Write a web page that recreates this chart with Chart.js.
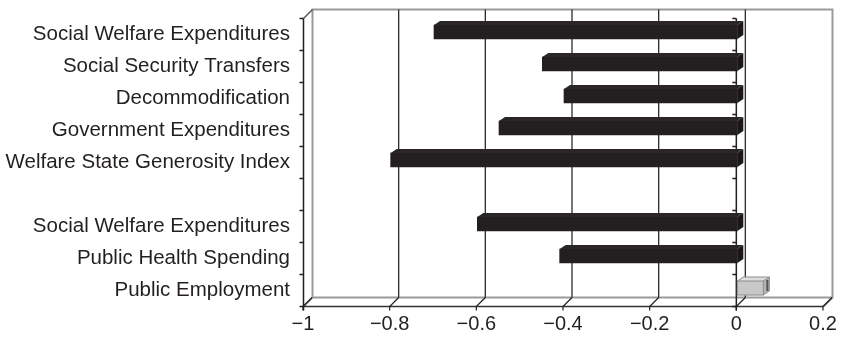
<!DOCTYPE html>
<html>
<head>
<meta charset="utf-8">
<script src="https://cdn.jsdelivr.net/npm/chart.js@4.4.1/dist/chart.umd.min.js"></script>
<style>
  html, body { margin: 0; padding: 0; background: #fff; }
  canvas { display: block; }
</style>
</head>
<body>
<canvas id="c" width="841" height="338"></canvas>
<script>
// Correlation estimates per welfare-state indicator (empty row separates the two groups)
const categories = [
  'Social Welfare Expenditures',
  'Social Security Transfers',
  'Decommodification',
  'Government Expenditures',
  'Welfare State Generosity Index',
  '',
  'Social Welfare Expenditures',
  'Public Health Spending',
  'Public Employment'
];
const values = [-0.70, -0.45, -0.40, -0.55, -0.80, null, -0.60, -0.41, 0.06];
const xTicks = [-1, -0.8, -0.6, -0.4, -0.2, 0, 0.2];

const INK = '#231f20';
const barColors = values.map(v => (v !== null && v < 0) ? INK : '#c8c8c8');

// pseudo-3D geometry
const DEPTH = 9;                  // offset of the back wall from the front plane
const BAR_DX = 6, BAR_DY = 4;     // top / side face offset of each bar
const SHIFT_X = 1, SHIFT_Y = -2;  // bars sit slightly behind the front plane

const fmt = v => (v < 0 ? '\u2212' : '') + String(Math.abs(Math.round(v * 10) / 10));

const box3d = {
  id: 'box3d',
  beforeDatasetsDraw(chart) {
    const { ctx, chartArea: a, scales: { x } } = chart;
    const L = a.left + 0.5, R = a.right + 0.5, T = a.top + 0.5, B = a.bottom + 0.5, d = DEPTH;
    ctx.save();
    // back wall, right edge and floor outline
    ctx.strokeStyle = '#9a9a9a';
    ctx.lineWidth = 2;
    ctx.beginPath();
    ctx.moveTo(L + d, B - d); ctx.lineTo(L + d, T - d); ctx.lineTo(R + d, T - d);
    ctx.lineTo(R + d, B - d); ctx.lineTo(R, B);
    ctx.moveTo(L + d, B - d); ctx.lineTo(R + d, B - d);
    ctx.moveTo(L, B); ctx.lineTo(L + d, B - d);
    ctx.stroke();
    // top edge of the side wall
    ctx.strokeStyle = '#555';
    ctx.lineWidth = 1.5;
    ctx.beginPath();
    ctx.moveTo(L, T); ctx.lineTo(L + d, T - d);
    ctx.stroke();
    // gridlines on the back wall
    ctx.strokeStyle = '#2b2b2b';
    ctx.lineWidth = 1.3;
    ctx.beginPath();
    xTicks.forEach((v, i) => {
      if (i === 0 || i === xTicks.length - 1) return;
      const px = x.getPixelForValue(v) + d;
      ctx.moveTo(px, T - d); ctx.lineTo(px, B - d);
    });
    ctx.stroke();
    // front floor edge
    ctx.strokeStyle = '#333';
    ctx.lineWidth = 1.3;
    ctx.beginPath();
    ctx.moveTo(L, B); ctx.lineTo(R, B);
    ctx.stroke();
    // tick marks running across the floor
    ctx.strokeStyle = INK;
    ctx.lineWidth = 1.2;
    ctx.beginPath();
    xTicks.forEach(v => {
      const px = x.getPixelForValue(v);
      ctx.moveTo(px, B + 4); ctx.lineTo(px, B);
      ctx.lineTo(px + d, B - d);
    });
    ctx.stroke();
    // category axes at the front left edge and at zero
    const zx = x.getPixelForValue(0);
    ctx.lineWidth = 1.5;
    ctx.beginPath();
    ctx.moveTo(L, T); ctx.lineTo(L, B + 4);
    ctx.moveTo(zx, T); ctx.lineTo(zx, B + 4);
    const n = categories.length;
    for (let i = 0; i <= n; i++) {
      const py = T + (B - T) * i / n;
      ctx.moveTo(L - 4, py); ctx.lineTo(L, py);
      ctx.moveTo(zx - 4, py); ctx.lineTo(zx, py);
    }
    ctx.stroke();
    ctx.restore();
    // bars sit a little behind the front plane
    ctx.save();
    ctx.translate(SHIFT_X, SHIFT_Y);
  },
  afterDatasetsDraw(chart) {
    const { ctx } = chart;
    const meta = chart.getDatasetMeta(0);
    meta.data.forEach((el, i) => {
      if (values[i] === null) return;
      const p = el.getProps(['x', 'y', 'base', 'height'], true);
      const left = Math.min(p.x, p.base), right = Math.max(p.x, p.base);
      const top = p.y - p.height / 2, bottom = p.y + p.height / 2;
      const dark = values[i] < 0;
      // top face
      ctx.fillStyle = dark ? '#2a2627' : '#dedede';
      ctx.beginPath();
      ctx.moveTo(left, top); ctx.lineTo(left + BAR_DX, top - BAR_DY);
      ctx.lineTo(right + BAR_DX, top - BAR_DY); ctx.lineTo(right, top);
      ctx.closePath(); ctx.fill();
      // side face
      ctx.fillStyle = dark ? '#1c1819' : '#b4b4b4';
      ctx.beginPath();
      ctx.moveTo(right, top); ctx.lineTo(right + BAR_DX, top - BAR_DY);
      ctx.lineTo(right + BAR_DX, bottom - BAR_DY); ctx.lineTo(right, bottom);
      ctx.closePath(); ctx.fill();
      if (!dark) {
        ctx.strokeStyle = '#8c8c8c';
        ctx.lineWidth = 1;
        ctx.strokeRect(left, top, right - left, bottom - top);
        ctx.beginPath();
        ctx.moveTo(left, top); ctx.lineTo(left + BAR_DX, top - BAR_DY);
        ctx.lineTo(right + BAR_DX, top - BAR_DY); ctx.lineTo(right + BAR_DX, bottom - BAR_DY);
        ctx.lineTo(right, bottom);
        ctx.moveTo(right, top); ctx.lineTo(right + BAR_DX, top - BAR_DY);
        ctx.stroke();
        ctx.strokeStyle = '#555';
        ctx.lineWidth = 2;
        ctx.beginPath();
        ctx.moveTo(right + BAR_DX / 2 + 1, top - 1); ctx.lineTo(right + BAR_DX / 2 + 1, bottom - BAR_DY);
        ctx.stroke();
      }
    });
    ctx.restore();
  }
};

new Chart(document.getElementById('c'), {
  type: 'bar',
  data: {
    labels: categories,
    datasets: [{
      data: values,
      backgroundColor: barColors,
      borderWidth: 0,
      barThickness: 14
    }]
  },
  options: {
    indexAxis: 'y',
    responsive: false,
    animation: false,
    devicePixelRatio: 1,
    layout: { padding: { top: 18, right: 18, left: 0, bottom: 0 } },
    plugins: { legend: { display: false }, tooltip: { enabled: false } },
    scales: {
      x: {
        type: 'linear',
        min: xTicks[0],
        max: xTicks[xTicks.length - 1],
        afterBuildTicks: s => { s.ticks = xTicks.map(v => ({ value: v })); },
        afterFit: s => {
          s.height = 32;
          s.paddingLeft = 0; s.paddingRight = 0;
        },
        grid: { display: false, drawTicks: false },
        border: { display: false },
        ticks: {
          autoSkip: false,
          maxRotation: 0,
          padding: 6,
          color: INK,
          font: { family: '"Liberation Sans", Arial, sans-serif', size: 20 },
          callback: v => fmt(v)
        }
      },
      y: {
        type: 'category',
        afterFit: s => {
          s.width = 303;
          s.paddingTop = 0; s.paddingBottom = 0;
        },
        grid: { display: false, drawTicks: false },
        border: { display: false },
        ticks: {
          autoSkip: false,
          padding: 13,
          color: INK,
          font: { family: '"Liberation Sans", Arial, sans-serif', size: 20.5 }
        }
      }
    }
  },
  plugins: [box3d]
});
</script>
</body>
</html>
